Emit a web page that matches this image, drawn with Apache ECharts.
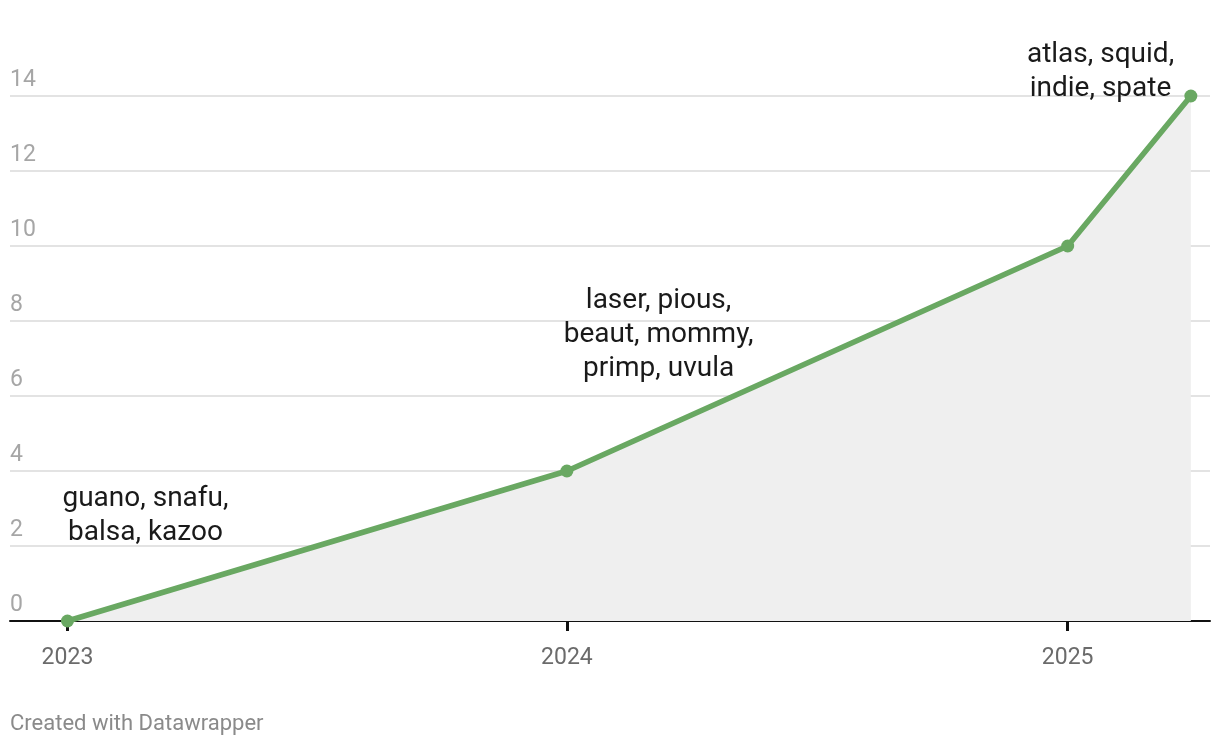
<!DOCTYPE html>
<html>
<head>
<meta charset="utf-8">
<script src="https://cdn.jsdelivr.net/npm/echarts@6/dist/echarts.min.js"></script>
<style>
html,body{margin:0;padding:0;background:#fff;}
#chart{width:1220px;height:748px;}
</style>
</head>
<body>
<div id="chart"></div>
<script>
const dates = ['2023-01-01', '2024-01-01', '2025-01-01', '2025-04-01'];
const values = [0, 4, 10, 14];
const yTicks = [0, 2, 4, 6, 8, 10, 12, 14];
const annoDates = ['2023-02-27', '2024-03-08', '2025-01-25'];
const annoValues = [2.80, 7.64, 14.64];
const annoTexts = ['guano, snafu,\nbalsa, kazoo', 'laser, pious,\nbeaut, mommy,\nprimp, uvula', 'atlas, squid,\nindie, spate'];
const footer = 'Created with Datawrapper';

const chart = echarts.init(document.getElementById('chart'));
const footerGraphic = {
  type: 'text', left: 10, top: 713,
  style: { text: footer, fill: '#8a8a8a', fontSize: 22, fontFamily: 'Roboto' }
};
chart.setOption({
  animation: false,
  textStyle: { fontFamily: 'Roboto' },
  grid: { left: 10, right: 10, top: 96, bottom: 127, containLabel: false },
  xAxis: {
    type: 'time',
    min: '2022-11-20',
    max: '2025-04-15',
    minInterval: 365 * 24 * 3600 * 1000,
    maxInterval: 366 * 24 * 3600 * 1000,
    axisLine: { show: true, onZero: false, lineStyle: { color: '#111', width: 2 } },
    axisTick: { show: true, length: 10, lineStyle: { color: '#111', width: 3 } },
    axisLabel: {
      formatter: '{yyyy}', color: '#6b6b6b', fontSize: 23, margin: 26,
      showMinLabel: false, showMaxLabel: false
    },
    splitLine: { show: false }
  },
  yAxis: {
    type: 'value',
    min: yTicks[0],
    max: yTicks[yTicks.length - 1],
    interval: 2,
    axisLine: { show: false },
    axisTick: { show: false },
    axisLabel: {
      inside: true, margin: 0, color: '#a6a6a6', fontSize: 23,
      verticalAlign: 'bottom', align: 'left', padding: [0, 0, 4, 0]
    },
    splitLine: { show: true, lineStyle: { color: '#e3e3e3', width: 2 } }
  },
  series: [{
    type: 'line',
    data: dates.map((d, i) => [d, values[i]]),
    symbol: 'circle',
    symbolSize: 13,
    lineStyle: { color: '#69a862', width: 5.5 },
    itemStyle: { color: '#69a862' },
    areaStyle: { color: '#efefef', opacity: 1 },
    z: 3
  }],
  graphic: [footerGraphic]
});

const annoGraphics = annoDates.map((d, i) => {
  const p = chart.convertToPixel({ gridIndex: 0 }, [d, annoValues[i]]);
  return {
    type: 'text', x: p[0], y: p[1], z: 10,
    style: {
      text: annoTexts[i], fill: '#1a1a1a', fontSize: 28, lineHeight: 34,
      fontFamily: 'Roboto', align: 'center', verticalAlign: 'middle'
    }
  };
});
chart.setOption({ graphic: [footerGraphic].concat(annoGraphics) });
</script>
</body>
</html>
